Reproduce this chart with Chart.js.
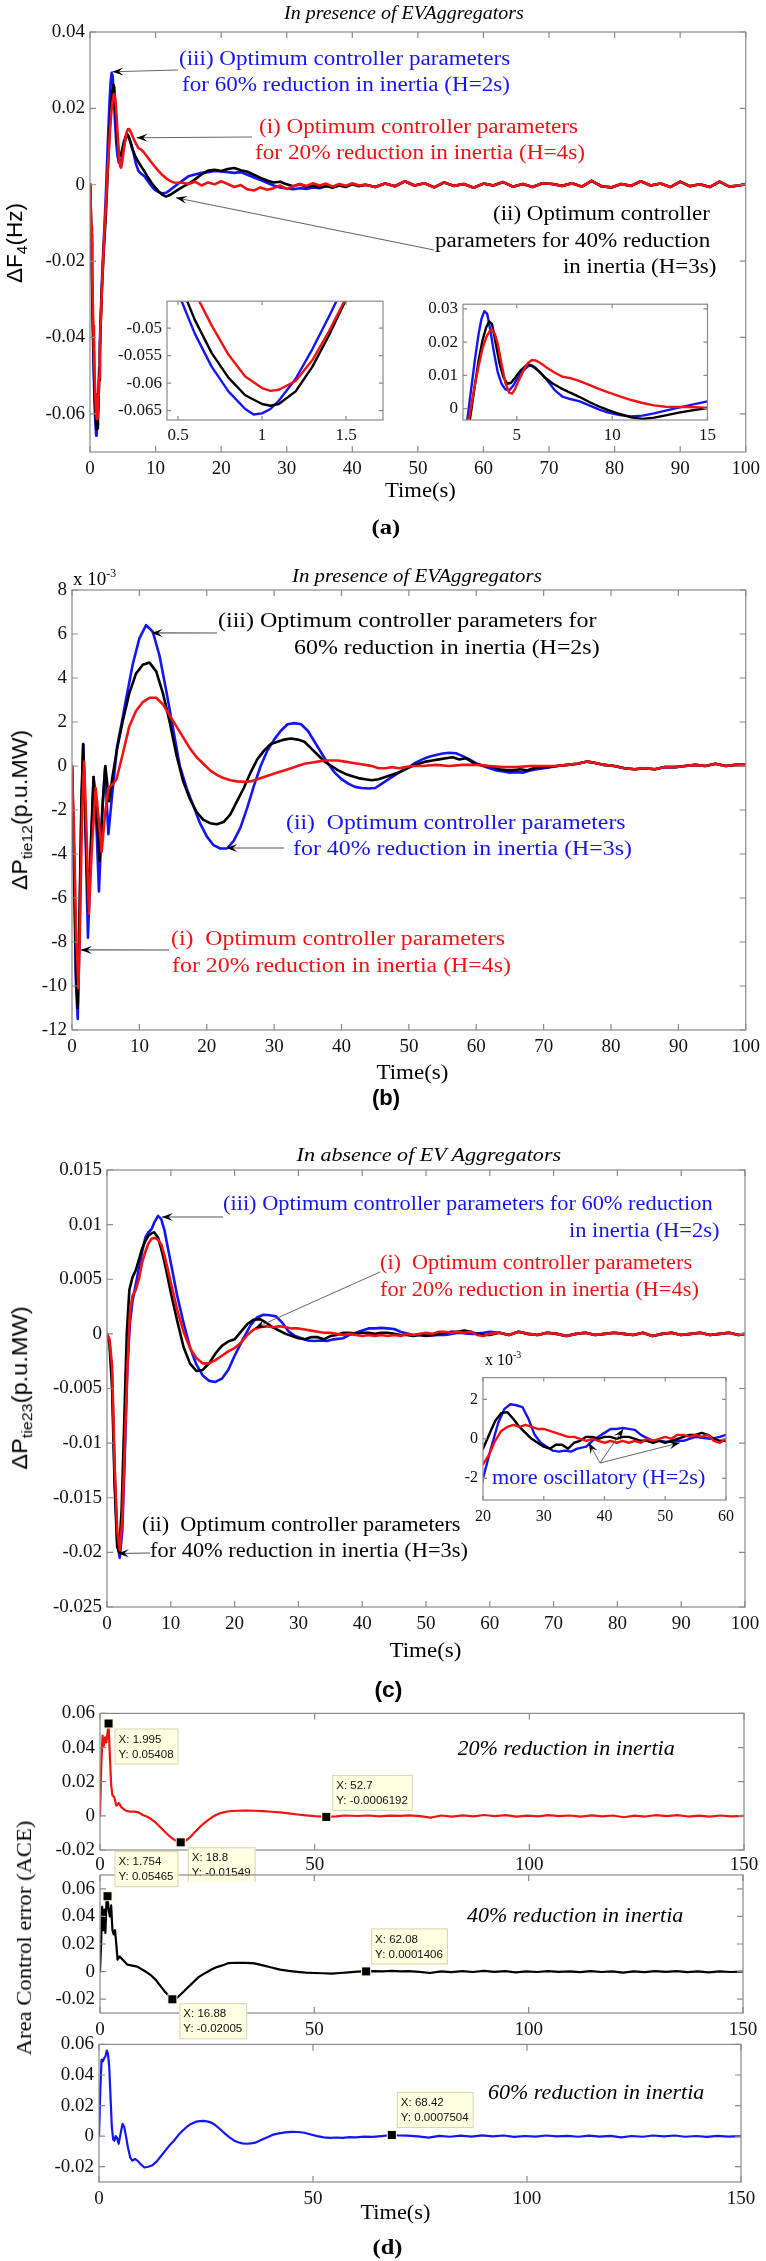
<!DOCTYPE html>
<html>
<head>
<meta charset="utf-8">
<script src="https://cdn.jsdelivr.net/npm/chart.js@4.4.1/dist/chart.umd.min.js"></script>
<style>
  html, body { margin: 0; padding: 0; background: #fff; }
  #page { position: relative; width: 766px; height: 2261px; overflow: hidden; background: #fff; }
  #page canvas { position: absolute; }
  .lbl { position: absolute; white-space: nowrap; line-height: 1; font-family: 'Liberation Serif', 'Times New Roman', serif; }
  .lbl sub { font-size: 68%; vertical-align: -0.35em; line-height: 0; }
  .lbl sup { font-size: 62%; vertical-align: 0.7em; line-height: 0; }
</style>
</head>
<body>
<div id="page"></div>
<script>
// ---- (a) frequency deviation, [time, value] ----
const aBlue = [[0,0],[0.1,-0.006],[0.2,-0.015],[0.3,-0.025],[0.4,-0.035],[0.5,-0.0435],[0.6,-0.051],[0.7,-0.057],[0.8,-0.0615],[0.9,-0.0647],[0.95,-0.0657],[1.0,-0.0655],[1.05,-0.0647],[1.1,-0.0632],[1.2,-0.0592],[1.3,-0.0538],[1.4,-0.0478],[1.5,-0.0415],[1.6,-0.036],[1.8,-0.026],[2.0,-0.018],[2.2,-0.011],[2.4,-0.0035],[2.6,0.0055],[2.8,0.0145],[3.0,0.0225],[3.15,0.027],[3.3,0.0293],[3.45,0.0285],[3.6,0.024],[3.8,0.017],[4.0,0.011],[4.2,0.0075],[4.4,0.0058],[4.6,0.0055],[4.8,0.0068],[5.0,0.0088],[5.3,0.0112],[5.6,0.0128],[5.8,0.013],[6.0,0.0122],[6.3,0.0105],[6.6,0.0085],[7.0,0.0055],[7.4,0.0036],[7.8,0.0029],[8.3,0.0022],[8.8,0.001],[9.3,-0.0002],[9.8,-0.0012],[10.4,-0.0019],[11.0,-0.0023],[11.6,-0.0021],[12.2,-0.0014],[12.8,-0.0006],[13.5,0.0003],[14.2,0.0012],[15,0.0022],[16,0.0027],[17,0.0031],[18,0.0033],[19,0.0036],[20,0.0035],[21,0.0033],[22,0.0031],[23,0.0033],[24,0.0026],[25,0.0019],[26,0.0012],[27,0.0005],[28,-0.0002],[29,-0.0007],[30,-0.001],[31,-0.0012],[32,-0.0009],[33,-0.0011],[34,-0.0007],[35,-0.0009],[36,-0.0004],[37,-0.0006],[38,-0.0002],[39,-0.0004],[40,0.0002],[41,-0.0002]];
const aBlack = [[0,0],[0.1,-0.005],[0.2,-0.013],[0.3,-0.023],[0.4,-0.033],[0.5,-0.041],[0.6,-0.0485],[0.7,-0.0545],[0.8,-0.059],[0.9,-0.0622],[1.0,-0.0638],[1.05,-0.0641],[1.1,-0.0638],[1.2,-0.0615],[1.3,-0.057],[1.4,-0.0512],[1.5,-0.0448],[1.6,-0.038],[1.8,-0.028],[2.0,-0.0205],[2.2,-0.0142],[2.4,-0.0085],[2.6,-0.001],[2.8,0.007],[3.0,0.0145],[3.2,0.0205],[3.4,0.0245],[3.55,0.0262],[3.7,0.0255],[3.9,0.0195],[4.1,0.0135],[4.3,0.0095],[4.5,0.0075],[4.7,0.0078],[4.9,0.0092],[5.2,0.0115],[5.5,0.013],[5.65,0.0133],[5.9,0.0125],[6.2,0.011],[6.5,0.0092],[6.9,0.0075],[7.3,0.0062],[7.8,0.0048],[8.3,0.0035],[8.8,0.002],[9.3,0.0007],[9.8,-0.0004],[10.4,-0.0016],[11.0,-0.0026],[11.6,-0.0031],[12.2,-0.0027],[12.8,-0.002],[13.5,-0.0012],[14.2,-0.0005],[15,0.0002],[16,0.0014],[17,0.0027],[18,0.0037],[19,0.0039],[20,0.0036],[21,0.0041],[22,0.0044],[23,0.0038],[24,0.0034],[25,0.0026],[26,0.0018],[27,0.0011],[28,0.0006],[29,0.0008],[30,0.0001],[31,-0.0004],[32,0.0002],[33,-0.0006],[34,-0.0002],[35,-0.0007],[36,-0.0003],[37,-0.0008],[38,-0.0002],[39,-0.0006],[40,0.0001],[41,-0.0004]];
const aRed = [[0,0],[0.1,-0.004],[0.2,-0.011],[0.3,-0.02],[0.4,-0.029],[0.5,-0.037],[0.6,-0.0435],[0.7,-0.0495],[0.8,-0.0548],[0.9,-0.0588],[1.0,-0.0609],[1.05,-0.0614],[1.1,-0.0612],[1.2,-0.0596],[1.3,-0.0558],[1.4,-0.0505],[1.5,-0.0445],[1.6,-0.038],[1.8,-0.0282],[2.0,-0.0198],[2.2,-0.0125],[2.4,-0.006],[2.6,0.0005],[2.8,0.007],[3.0,0.0128],[3.2,0.018],[3.4,0.0215],[3.6,0.0235],[3.7,0.0238],[3.85,0.0225],[4.0,0.0195],[4.2,0.0135],[4.4,0.0078],[4.6,0.0048],[4.75,0.0045],[4.9,0.0058],[5.1,0.0085],[5.4,0.012],[5.6,0.0138],[5.8,0.0146],[6.0,0.0145],[6.3,0.0135],[6.6,0.0122],[7.0,0.0108],[7.4,0.0096],[7.8,0.0092],[8.2,0.0085],[8.7,0.0074],[9.2,0.0062],[9.8,0.0049],[10.4,0.0037],[11.0,0.0026],[11.6,0.0017],[12.2,0.001],[12.8,0.0006],[13.4,0.0005],[14.0,0.0005],[14.6,0.0004],[15,0.0002],[16,0.0008],[17,-0.0002],[18,0.0006],[19,0.0001],[20,0.0009],[21,0.0002],[22,-0.0006],[23,-0.0001],[24,-0.0012],[25,-0.0015],[26,-0.0007],[27,-0.0013],[28,-0.0009],[29,-0.0002],[30,-0.0011],[31,-0.0004],[32,0.0001],[33,-0.0003],[34,0.0004],[35,-0.0002],[36,0.0003],[37,-0.0005],[38,0.0002],[39,-0.0003],[40,0.0004],[41,-0.0002]];
const aTail = [[42,0],[43.5,-0.0006],[45,0.0003],[46.5,-0.0004],[48,0.0009],[49.5,-0.0002],[51,0.0004],[52.5,-0.0007],[54,0.0006],[55.5,-0.0003],[57,0.0002],[58.5,-0.0008],[60,0.0003],[61.5,-0.0002],[63,0.0007],[64.5,-0.0005],[66,0.0002],[67.5,-0.0006],[69,0.0004],[70.5,0.0002],[72,-0.0003],[73.5,0.0004],[75,-0.0005],[76.5,0.001],[78,-0.0004],[79.5,-0.0007],[81,0.0002],[82.5,-0.0003],[84,0.0009],[85.5,-0.0002],[87,0.0003],[88.5,-0.0006],[90,0.0008],[91.5,-0.0004],[93,0.0001],[94.5,-0.0006],[96,0.0008],[97.5,-0.0005],[99,-0.0002],[100,0.0002]];
const aXTicks = [0,10,20,30,40,50,60,70,80,90,100];
const aYTicks = [-0.06,-0.04,-0.02,0,0.02,0.04];
const a1XTicks = [0.5,1,1.5];
const a1YTicks = [-0.065,-0.06,-0.055,-0.05];
const a2XTicks = [5,10,15];
const a2YTicks = [0,0.01,0.02,0.03];

// ---- (b) tie-line power 1-2, values in 1e-3 p.u.MW ----
const bBlue = [[0,0],[0.3,-5],[0.6,-10],[0.85,-11.5],[1.1,-8],[1.4,-2],[1.67,1.0],[2.0,-3],[2.37,-7.8],[2.8,-4],[3.2,-0.5],[3.6,-2.5],[4.0,-5.7],[4.5,-2],[4.9,-0.1],[5.4,-3.1],[5.9,-1.5],[6.7,0.9],[7.4,2.0],[8,3.0],[9,4.6],[10,5.8],[11,6.4],[12,6.1],[13,5.0],[14,3.4],[15,1.7],[16,0],[17,-1.0],[18,-1.8],[19,-2.6],[20,-3.2],[21,-3.6],[22,-3.75],[23,-3.75],[24,-3.4],[25,-2.8],[26,-1.9],[27,-0.9],[28,0],[29,0.7],[30,1.2],[31,1.6],[32,1.9],[33,1.95],[34,1.9],[35,1.6],[36,1.1],[37,0.6],[38,0.1],[39,-0.3],[40,-0.6],[41,-0.8],[42,-0.95],[43,-1.0],[44,-1.02],[45,-1.0],[46,-0.8],[47,-0.6],[48,-0.4],[49,-0.2],[50,-0.05],[51,0.15],[52,0.3],[53,0.42],[54,0.5],[55,0.57],[56,0.6],[57,0.58],[58,0.45],[59,0.3],[60,0.12],[61,0],[62,-0.1],[63,-0.2],[64,-0.25],[65,-0.3],[66,-0.28],[67,-0.3],[68,-0.2],[69,-0.15],[70,-0.1],[71,-0.05]];
const bBlack = [[0,0],[0.3,-4],[0.6,-9.5],[0.85,-11],[1.1,-7],[1.4,-1.5],[1.65,1.0],[2.0,-2.5],[2.4,-6.6],[2.8,-3.5],[3.2,-0.5],[3.6,-1.8],[4.1,-4.3],[4.6,-1.5],[4.95,0],[5.5,-1.6],[6.0,-0.5],[6.7,0.8],[7.5,2.0],[8.5,3.3],[9.5,4.2],[10.5,4.6],[11.5,4.7],[12.5,4.3],[13.5,3.3],[14.5,2.0],[15.5,0.5],[16.5,-0.7],[17.5,-1.5],[18.5,-2.1],[19.5,-2.45],[20.5,-2.6],[21.5,-2.65],[22.5,-2.55],[23.5,-2.2],[24.5,-1.6],[25.5,-1.0],[26.5,-0.3],[27.5,0.3],[28.5,0.7],[29.5,1.0],[30.5,1.1],[31.5,1.2],[32.5,1.25],[33.5,1.2],[34.5,1.1],[35.5,0.8],[36.5,0.5],[37.5,0.2],[38.5,0],[39.5,-0.2],[40.5,-0.35],[41.5,-0.45],[42.5,-0.55],[43.5,-0.6],[44.5,-0.65],[45.5,-0.6],[46.5,-0.5],[47.5,-0.4],[48.5,-0.3],[49.5,-0.15],[50.5,0],[51.5,0.1],[52.5,0.2],[53.5,0.25],[54.5,0.3],[55.5,0.35],[56.5,0.4],[57.5,0.3],[58.5,0.35],[59.5,0.15],[60.5,0.05],[61.5,0],[62.5,-0.05],[63.5,-0.15],[64.5,-0.2],[65.5,-0.2],[66.5,-0.15],[67.5,-0.2],[68.5,-0.1],[69.5,-0.05],[70.5,-0.05]];
const bRed = [[0,0],[0.3,-3],[0.6,-7.5],[0.95,-10.1],[1.2,-7],[1.5,-2],[1.8,0.2],[2.1,-2.5],[2.5,-6.7],[2.9,-4],[3.5,-1.0],[3.9,-2.2],[4.4,-3.9],[4.9,-2.2],[5.4,-1.0],[6.1,-0.8],[6.6,-0.6],[7.5,0.5],[8.5,1.8],[9.5,2.5],[10.5,2.9],[11.5,3.1],[12.5,3.1],[13.5,2.8],[14.5,2.3],[15.5,1.8],[16.5,1.3],[17.5,0.8],[18.5,0.4],[19.5,0.1],[20.5,-0.2],[21.5,-0.4],[22.5,-0.55],[23.5,-0.65],[24.5,-0.7],[25.5,-0.72],[26.5,-0.7],[27.5,-0.6],[28.5,-0.5],[29.5,-0.4],[30.5,-0.3],[31.5,-0.2],[32.5,-0.1],[33.5,0],[34.5,0.1],[35.5,0.15],[36.5,0.2],[37.5,0.25],[38.5,0.25],[39.5,0.25],[40.5,0.2],[41.5,0.15],[42.5,0.1],[43.5,0.05],[44.5,0],[45.5,-0.1],[46.5,-0.1],[47.5,-0.05],[48.5,-0.1],[49.5,-0.05],[50.5,0],[52,0],[54,0.05],[56,0],[58,0.05],[60,0.05],[62,0],[64,-0.05],[66,-0.05],[68,0],[70,0]];
const bTail = [[72,0],[73.5,0.05],[75,0.1],[76.5,0.2],[77.5,0.15],[79,0.05],[80.5,0],[82,-0.1],[83.5,-0.15],[85,-0.1],[86.5,-0.15],[88,-0.05],[89.5,-0.05],[91,0],[92.5,0.05],[94,0],[95.5,0.1],[97,0],[98.5,0.05],[100,0.05]];
const bXTicks = [0,10,20,30,40,50,60,70,80,90,100];
const bYTicks = [-12,-10,-8,-6,-4,-2,0,2,4,6,8];

// ---- (c) tie-line power 2-3 ----
const cBlue = [[0,0],[0.4,-0.0008],[0.8,-0.004],[1.2,-0.013],[1.6,-0.019],[2.0,-0.0205],[2.4,-0.018],[2.8,-0.011],[3.2,-0.003],[3.6,0.001],[4.0,0.003],[4.5,0.0045],[5.0,0.006],[5.5,0.0075],[6.0,0.0088],[6.5,0.0093],[7.0,0.0096],[7.5,0.0103],[8.0,0.0108],[8.5,0.0105],[9.0,0.0095],[9.5,0.008],[10,0.0065],[11,0.0035],[12,0.001],[13,-0.0012],[14,-0.0028],[15,-0.0038],[16,-0.0043],[17,-0.0044],[18,-0.0041],[19,-0.0033],[20,-0.002],[21.3,-0.0005],[22.5,0.0008],[23.5,0.0015],[24.5,0.00175],[25.5,0.0017],[26.5,0.0016],[27.5,0.001],[28.5,0.0002],[29.5,-0.0002],[30.5,-0.0004],[31.5,-0.0006],[32.5,-0.00065],[33.5,-0.0006],[34.5,-0.00065],[35.5,-0.0005],[37,-0.0004],[38,-0.0001],[39,0.0001],[40,0.0003],[41,0.0005],[42,0.0005],[43,0.00055],[44,0.0005],[45,0.00045],[46,0.0002],[46.6,0.0001],[48,-0.0001],[49,-0.0001],[50,-0.00015],[51,-0.00015],[52,-0.0001],[53,-0.0001],[54,0],[55,0.0001],[56,0.00005],[57.5,0],[59,0.0001],[60,0.0002]];
const cBlack = [[0,0],[0.4,-0.001],[0.8,-0.005],[1.2,-0.014],[1.6,-0.0195],[1.9,-0.02],[2.3,-0.016],[2.7,-0.008],[3.1,0],[3.5,0.004],[4.0,0.0052],[4.5,0.0058],[5.0,0.0068],[5.5,0.0078],[6.0,0.0085],[6.5,0.009],[7.0,0.0092],[7.4,0.0093],[8.0,0.0088],[8.5,0.0078],[9.0,0.0066],[9.5,0.0052],[10,0.0038],[11,0.0012],[12,-0.0012],[13,-0.0027],[14,-0.0034],[15,-0.0033],[16,-0.0027],[17,-0.0018],[18,-0.0011],[19,-0.0007],[20,-0.0005],[21,0.0002],[22,0.0009],[23,0.0013],[24,0.00135],[25,0.001],[26,0.0006],[27,0.0003],[28,0],[29,-0.0002],[30,-0.0004],[31,-0.0005],[32,-0.0003],[33,-0.0003],[34,-0.0005],[35,-0.0002],[36,-0.0001],[37,0.0001],[38,0.0001],[39,0],[40,0.0001],[41,0.0001],[42,0],[43,0.0001],[44,0.0001],[45,0],[46,-0.0001],[47,-0.0001],[48,-0.0002],[49,-0.0001],[50,-0.0002],[51,-0.0001],[52,0],[53,0.0001],[54,0.0002],[55,0.0002],[56,0.0003],[57,0.0002],[58,0],[59,-0.0001],[60,-0.0001]];
const cRed = [[0,0],[0.4,-0.0005],[0.8,-0.003],[1.2,-0.012],[1.6,-0.018],[2.0,-0.0198],[2.4,-0.017],[2.8,-0.01],[3.2,-0.003],[3.6,0.002],[4.0,0.0035],[4.5,0.004],[5.0,0.005],[5.5,0.0065],[6.0,0.0075],[6.5,0.0083],[7.0,0.0087],[7.5,0.0088],[8.0,0.0086],[8.5,0.0082],[9.0,0.0072],[9.5,0.006],[10,0.0047],[11,0.0022],[12,0.0002],[13,-0.0013],[14,-0.0022],[15,-0.0027],[16,-0.0027],[17,-0.0024],[18,-0.002],[19,-0.0016],[20,-0.0013],[21,-0.0008],[22,-0.0001],[23,0.0004],[24,0.0006],[25,0.0007],[26,0.0006],[27,0.0007],[28,0.0006],[29,0.0005],[30,0.0005],[31,0.0004],[32,0.0003],[33,0.0002],[34,0.0001],[35,0.0001],[36,0],[37,-0.0001],[38,0],[39,-0.0001],[40,-0.0002],[41,-0.0001],[42,-0.0002],[43,-0.0001],[44,-0.0002],[45,-0.0001],[46,-0.0002],[47,0],[48,-0.0001],[49,0],[50,0.0001],[51,0],[52,0.0002],[53,0.0002],[54,0.0001],[55,0.0002],[56,0.0001],[57,0.0002],[58,-0.0001],[59,-0.0002],[60,0]];
const cTail = [[61.5,0.0001],[63,-0.0001],[64.5,0.0002],[66,0],[67.5,-0.0001],[69,0.0001],[70.5,0],[72,-0.0002],[73.5,0],[75,0.0001],[76.5,-0.0001],[78,0],[79.5,0.0001],[81,0],[82.5,-0.0001],[84,0.0001],[85.5,-0.0002],[87,0],[88.5,0.0001],[90,-0.0001],[91.5,0],[93,0.0001],[94.5,-0.0001],[96,0],[97.5,0.0001],[99,-0.0001],[100,0]];
const cXTicks = [0,10,20,30,40,50,60,70,80,90,100];
const cYTicks = [-0.025,-0.02,-0.015,-0.01,-0.005,0,0.005,0.01,0.015];
const c1XTicks = [20,30,40,50,60];
const c1YTicks = [-2,0,2];

// ---- (d) area control error ----
const dRed = [[0,0],[0.3,0.03],[0.6,0.047],[0.9,0.041],[1.2,0.046],[1.5,0.043],[1.995,0.05408],[2.3,0.035],[2.6,0.018],[2.9,0.012],[3.3,0.011],[3.8,0.006],[4.4,0.0075],[5,0.005],[6,0.003],[7,0.0025],[8,0.0025],[9,0.002],[10,0.0005],[11,-0.0005],[12,-0.002],[13,-0.004],[14,-0.0065],[15,-0.009],[16,-0.0115],[17,-0.0135],[18,-0.015],[18.8,-0.01549],[20,-0.0145],[21,-0.0125],[22,-0.0098],[23,-0.0072],[24,-0.0048],[25,-0.0028],[26,-0.001],[27,0.0005],[28,0.0015],[29,0.0022],[30,0.0027],[32,0.003],[34,0.0031],[36,0.003],[38,0.0028],[40,0.0024],[42,0.002],[44,0.0014],[46,0.0008],[48,0.0003],[50,-0.0002],[52.7,-0.0006192],[55,-0.0003],[57,0.0002],[60,-0.0001],[62.5,0.0002],[65,-0.0003],[67.5,0.0001],[70,0]];
const dBlack = [[0,0],[0.25,0.02],[0.5,0.047],[0.75,0.03],[1.0,0.045],[1.25,0.028],[1.5,0.05],[1.754,0.05465],[2.0,0.045],[2.3,0.04],[2.6,0.048],[2.9,0.03],[3.2,0.027],[3.5,0.03],[3.8,0.02],[4.1,0.0086],[4.6,0.011],[5.2,0.009],[6.4,0.005],[8.7,0.0036],[11,-0.0007],[12,-0.003],[13,-0.006],[14,-0.01],[15,-0.014],[16,-0.0175],[16.88,-0.02005],[18,-0.019],[19,-0.016],[20,-0.013],[21,-0.01],[22,-0.007],[23,-0.004],[24,-0.002],[25,-0.0003],[26,0.0015],[27,0.003],[28,0.004],[29,0.005],[30,0.0062],[32,0.0064],[34,0.0063],[36,0.006],[38,0.0045],[40,0.003],[42,0.0014],[44,0.0005],[46,-0.0002],[48,-0.0008],[50,-0.001],[52,-0.0012],[54,-0.0014],[56,-0.001],[58,-0.0005],[60,0],[62.08,0.0001406],[64,0.0004],[66,0.0002],[68,0.0005],[70,0.0001]];
const dBlue = [[0,0],[0.3,0.03],[0.6,0.05],[0.9,0.049],[1.2,0.051],[1.5,0.052],[1.8,0.056],[2.1,0.054],[2.4,0.045],[2.7,0.025],[3.0,0.006],[3.3,-0.002],[3.6,-0.003],[3.9,0],[4.2,-0.001],[4.6,-0.005],[5.0,0.001],[5.5,0.008],[5.9,0.006],[6.3,0],[6.8,-0.008],[7.3,-0.014],[7.8,-0.016],[8.4,-0.015],[9.0,-0.016],[9.6,-0.018],[10.6,-0.0205],[11.5,-0.02],[12.5,-0.019],[13.5,-0.0165],[14.5,-0.013],[15.5,-0.0095],[16.5,-0.006],[17.5,-0.003],[18.5,0.0005],[19.5,0.0035],[20.5,0.006],[21.5,0.008],[22.5,0.0093],[23.5,0.0098],[24.5,0.01],[25.5,0.0095],[26.5,0.0085],[27.5,0.0065],[28.5,0.004],[29.5,0.0015],[30.5,-0.0008],[31.5,-0.0028],[32.5,-0.004],[33.5,-0.0047],[34.5,-0.005],[35.5,-0.0048],[36.5,-0.0043],[37.5,-0.003],[38.5,-0.0017],[39.5,-0.0005],[40.5,0.0008],[42,0.0018],[43.5,0.0025],[45,0.0028],[46.5,0.0027],[48,0.0022],[49.5,0.0011],[51,0],[52.5,-0.0008],[54,-0.0011],[55.5,-0.0009],[57,-0.0011],[58.5,-0.0007],[60,-0.0008],[62,-0.0003],[64,-0.0005],[66,0],[68.42,0.0007504],[70,0.0004]];
const dTail = [[72,0.0003],[74.5,-0.0002],[77,-0.001],[79.5,0.0002],[82,-0.0004],[84.5,0.0003],[87,-0.0003],[89.5,0.0005],[92,-0.0002],[94.5,0.0004],[97,-0.0005],[99.5,0.0001],[102,-0.0003],[104.5,0.0004],[107,-0.0002],[109.5,0.0002],[112,-0.0004],[114.5,0.0003],[117,-0.0003],[119.5,0.0002],[122,-0.0008],[124.5,0.0001],[127,-0.0004],[129.5,0.0004],[132,-0.0002],[134.5,0.0004],[137,-0.0004],[139.5,0.0001],[142,-0.0005],[144.5,0.0002],[147,-0.0003],[150,0]];
const dTips1 = [[1.995,0.05408],[18.8,-0.01549],[52.7,-0.0006192]];
const dTips2 = [[1.754,0.05465],[16.88,-0.02005],[62.08,0.0001406]];
const dTips3 = [[68.42,0.0007504]];
const dXTicks = [0,50,100,150];
const dYTicks = [-0.02,0,0.02,0.04,0.06];

// ---- drawing ----
const SERIF = "'Liberation Serif', 'Times New Roman', serif";
const SANS = "'Liberation Sans', Arial, sans-serif";
const BLUE = '#1414f5', RED = '#f21212', BLACK = '#000000';
const page = document.getElementById('page');

function arrowTo(ctx, x1, y1, x2, y2, col, lw) {
  ctx.strokeStyle = col; ctx.lineWidth = lw;
  ctx.beginPath(); ctx.moveTo(x1, y1); ctx.lineTo(x2, y2); ctx.stroke();
  const a = Math.atan2(y2 - y1, x2 - x1), L = 11, W = 4;
  const c = Math.cos(a), s = Math.sin(a);
  ctx.fillStyle = '#000';
  ctx.beginPath();
  ctx.moveTo(x2, y2);
  ctx.lineTo(x2 - L * c + W * s, y2 - L * s - W * c);
  ctx.lineTo(x2 - 0.6 * L * c, y2 - 0.6 * L * s);
  ctx.lineTo(x2 - L * c - W * s, y2 - L * s + W * c);
  ctx.closePath(); ctx.fill();
}

const framePlugin = {
  id: 'frame',
  beforeDatasetsDraw(chart, args, o) {
    if (!o.fill) return;
    const { ctx, chartArea: a } = chart;
    ctx.save(); ctx.fillStyle = o.fill; ctx.fillRect(a.left, a.top, a.width, a.height); ctx.restore();
  },
  afterDraw(chart, args, o) {
    const { ctx, chartArea: a, scales } = chart;
    ctx.save();
    ctx.strokeStyle = '#8a8a8a'; ctx.lineWidth = 1.2;
    ctx.strokeRect(a.left, a.top, a.width, a.height);
    const L = o.tick;
    ctx.beginPath();
    scales.x.ticks.forEach(t => {
      const x = scales.x.getPixelForValue(t.value);
      ctx.moveTo(x, a.bottom); ctx.lineTo(x, a.bottom - L);
      ctx.moveTo(x, a.top); ctx.lineTo(x, a.top + L);
    });
    scales.y.ticks.forEach(t => {
      const y = scales.y.getPixelForValue(t.value);
      ctx.moveTo(a.left, y); ctx.lineTo(a.left + L, y);
      ctx.moveTo(a.right, y); ctx.lineTo(a.right - L, y);
    });
    ctx.stroke();
    (o.arrows || []).forEach(ar => {
      const x2 = scales.x.getPixelForValue(ar.to[0]);
      const y2 = scales.y.getPixelForValue(ar.to[1] * (o.k || 1));
      arrowTo(ctx, ar.from[0] - o.ox, ar.from[1] - o.oy, x2, y2, ar.color || '#555', ar.lw || 1.1);
    });
    (o.tips || []).forEach((p, i) => {
      const x = scales.x.getPixelForValue(p[0]);
      const y = scales.y.getPixelForValue(p[1]);
      const off = o.tipPos[i];
      const lines = ['X: ' + p[0], 'Y: ' + p[1]];
      ctx.font = '11.5px ' + SANS;
      const w = Math.max(...lines.map(t => ctx.measureText(t).width)) + 9;
      const bx = x + off[0], by = y + off[1];
      ctx.fillStyle = '#ffffe1'; ctx.fillRect(bx, by, w, 36);
      ctx.strokeStyle = '#d6d6b4'; ctx.lineWidth = 1; ctx.strokeRect(bx + 0.5, by + 0.5, w - 1, 35);
      ctx.fillStyle = '#111'; ctx.textBaseline = 'middle'; ctx.textAlign = 'left';
      ctx.fillText(lines[0], bx + 4, by + 11);
      ctx.fillText(lines[1], bx + 4, by + 26);
      ctx.fillStyle = '#fff8d0'; ctx.fillRect(x - 5, y - 5, 10, 10);
      ctx.fillStyle = '#000'; ctx.fillRect(x - 4, y - 4, 8, 8);
    });
    ctx.restore();
  }
};
Chart.register(framePlugin);

const fmt = v => String(+(+v).toFixed(5));

// b = [left, top, right, bottom] of the plot box on the page, m = [left, top, right, bottom] margins
function plot(o) {
  const b = o.box, m = o.m;
  const w = b[2] - b[0] + m[0] + m[2], h = b[3] - b[1] + m[1] + m[3];
  const ox = b[0] - m[0], oy = b[1] - m[1];
  const cv = document.createElement('canvas');
  cv.width = w; cv.height = h;
  cv.style.left = ox + 'px'; cv.style.top = oy + 'px';
  cv.style.width = w + 'px'; cv.style.height = h + 'px';
  page.appendChild(cv);
  const k = o.k || 1;
  const font = { family: SERIF, size: o.fs || 19 };
  return new Chart(cv, {
    type: 'line',
    data: {
      datasets: o.series.map(s => ({
        data: s.data.map(p => ({ x: p[0], y: p[1] * k })),
        borderColor: s.color, borderWidth: s.width || 2.6,
        pointRadius: 0, tension: 0, fill: false, borderJoinStyle: 'round', borderCapStyle: 'round'
      }))
    },
    options: {
      responsive: false, animation: false, devicePixelRatio: 1, events: [],
      layout: { autoPadding: false, padding: { left: 0, top: m[1], right: m[2], bottom: 0 } },
      plugins: {
        legend: { display: false }, tooltip: { enabled: false },
        frame: { ox, oy, k, tick: o.tick || 6, fill: o.fill, arrows: o.arrows, tips: o.tips, tipPos: o.tipPos }
      },
      scales: {
        x: {
          type: 'linear', min: o.x[0], max: o.x[1],
          afterBuildTicks: s => { s.ticks = o.xt.map(v => ({ value: v })); },
          afterFit: s => { s.height = m[3]; },
          grid: { display: false, drawTicks: false }, border: { display: false },
          ticks: { font, color: '#111', padding: o.xpad || 5, maxRotation: 0, autoSkip: false, callback: fmt }
        },
        y: {
          type: 'linear', min: o.y[0], max: o.y[1],
          afterBuildTicks: s => { s.ticks = o.yt.map(v => ({ value: v })); },
          afterFit: s => { s.width = m[0]; },
          grid: { display: false, drawTicks: false }, border: { display: false },
          ticks: { font, color: '#111', padding: 5, autoSkip: false, callback: fmt }
        }
      }
    }
  });
}

function label(html, x, y, o) {
  const s = document.createElement('span');
  s.className = 'lbl';
  s.innerHTML = html;
  s.style.fontSize = (o.size || 20) + 'px';
  if (o.family) s.style.fontFamily = o.family;
  if (o.italic) s.style.fontStyle = 'italic';
  if (o.bold) s.style.fontWeight = 'bold';
  s.style.color = o.color || '#000';
  page.appendChild(s);
  const w = s.offsetWidth, h = s.offsetHeight;
  let k = o.w ? o.w / w : 1;
  k = Math.max(0.7, Math.min(1.4, k));
  if (o.rot) {
    s.style.left = (x - w / 2) + 'px';
    s.style.top = (y - h / 2) + 'px';
    s.style.transform = 'rotate(-90deg) scaleX(' + k + ')';
    return;
  }
  const al = o.align || 'c';
  s.style.left = (al === 'l' ? x : al === 'r' ? x - w : x - w / 2) + 'px';
  s.style.top = (y - h / 2) + 'px';
  s.style.transformOrigin = (al === 'l' ? 'left' : al === 'r' ? 'right' : 'center') + ' center';
  s.style.transform = 'scaleX(' + k + ')';
}

// panel (a)
plot({ box: [90, 32, 748, 452], m: [90, 32, 18, 95], x: [0, 100], y: [-0.07, 0.04], xt: aXTicks, yt: aYTicks, xpad: 6,
  series: [
    { data: aRed.concat(aTail), color: RED },
    { data: aBlack.concat(aTail), color: BLACK },
    { data: aBlue.concat(aTail), color: BLUE }
  ],
  arrows: [
    { from: [178, 70], to: [3.4, 0.0296], color: '#666' },
    { from: [252, 137], to: [7.1, 0.0123], color: '#666' },
    { from: [434, 250], to: [13.1, -0.0034], color: '#666' }
  ] });
plot({ box: [167, 292, 383, 420], m: [58, 6, 6, 28], x: [0.4345, 1.72], y: [-0.0667, -0.0451], xt: a1XTicks, yt: a1YTicks,
  fs: 17, tick: 4, xpad: 5, fill: '#fff',
  series: [ { data: aRed, color: RED, width: 2.4 }, { data: aBlack, color: BLACK, width: 2.4 }, { data: aBlue, color: BLUE, width: 2.4 } ] });
plot({ box: [463, 297, 713, 420], m: [46, 8, 8, 28], x: [2.18, 15], y: [-0.0034, 0.0314], xt: a2XTicks, yt: a2YTicks,
  fs: 17, tick: 4, xpad: 5, fill: '#fff',
  series: [ { data: aRed, color: RED, width: 2.4 }, { data: aBlack, color: BLACK, width: 2.4 }, { data: aBlue, color: BLUE, width: 2.4 } ] });

// panel (b)
plot({ box: [72, 590, 752, 1030], m: [72, 40, 14, 85], x: [0, 100], y: [-12, 8], xt: bXTicks, yt: bYTicks, xpad: 6,
  series: [
    { data: bRed.concat(bTail), color: RED },
    { data: bBlack.concat(bTail), color: BLACK },
    { data: bBlue.concat(bTail), color: BLUE }
  ],
  arrows: [
    { from: [217, 633], to: [11.8, 6.05] },
    { from: [284, 848], to: [22.9, -3.73] },
    { from: [169, 950], to: [1.3, -8.36] }
  ] });

// panel (c)
plot({ box: [107, 1170, 745, 1607], m: [107, 45, 21, 95], x: [0, 100], y: [-0.025, 0.015], xt: cXTicks, yt: cYTicks, xpad: 6,
  series: [
    { data: cRed.concat(cTail), color: RED },
    { data: cBlack.concat(cTail), color: BLACK },
    { data: cBlue.concat(cTail), color: BLUE }
  ],
  arrows: [
    { from: [223, 1217], to: [8.6, 0.0107] },
    { from: [380, 1272], to: [23.2, 0.00054], lw: 0.9 },
    { from: [150, 1553], to: [1.7, -0.0201] }
  ] });
plot({ box: [483, 1369, 729, 1500], m: [24, 6, 12, 26], x: [20, 60], y: [-3.1, 3.1], xt: c1XTicks, yt: c1YTicks, k: 1000,
  fs: 16, tick: 4, xpad: 7, fill: '#fff',
  series: [ { data: cRed.concat(cTail), color: RED, width: 2.4 }, { data: cBlack.concat(cTail), color: BLACK, width: 2.4 }, { data: cBlue.concat(cTail), color: BLUE, width: 2.4 } ],
  arrows: [
    { from: [600, 1463], to: [37.4, -0.0002], lw: 0.9 },
    { from: [600, 1463], to: [43.1, 0.0005], lw: 0.9 },
    { from: [600, 1463], to: [52.4, -0.0002], lw: 0.9 }
  ] });

// panel (d)
plot({ box: [100, 1712, 744, 1850], m: [100, 15, 22, 32], x: [0, 150], y: [-0.02, 0.06], xt: dXTicks, yt: dYTicks, xpad: 4,
  series: [ { data: dRed.concat(dTail), color: RED, width: 2.2 } ], tips: dTips1, tipPos: [[6, 5], [7, 5], [6, -42]] });
plot({ box: [100, 1875, 743, 2013], m: [100, 26, 23, 32], x: [0, 150], y: [-0.03, 0.07], xt: dXTicks, yt: dYTicks, xpad: 6,
  series: [ { data: dBlack.concat(dTail), color: BLACK, width: 2.2 } ], tips: dTips2, tipPos: [[7, -45], [7, 4], [5, -43]] });
plot({ box: [99, 2040, 741, 2182], m: [99, 12, 25, 79], x: [0, 150], y: [-0.03, 0.06], xt: dXTicks, yt: dYTicks, xpad: 6,
  series: [ { data: dBlue.concat(dTail), color: BLUE, width: 2.2 } ], tips: dTips3, tipPos: [[5, -43]] });

// texts
label('In presence of EVAggregators', 404, 12, { size: 19, italic: true, w: 240 });
label('&Delta;F<sub>4</sub>(Hz)', 15, 243, { size: 22, family: SANS, rot: true, w: 80 });
label('Time(s)', 420, 490, { size: 22, w: 71 });
label('(a)', 386, 527, { size: 22, bold: true, w: 29 });
label('(iii) Optimum controller parameters', 179, 58, { align: 'l', color: BLUE, w: 331 });
label('for 60% reduction in inertia (H=2s)', 182, 84, { align: 'l', color: BLUE, w: 328 });
label('(i) Optimum controller parameters', 259, 126, { align: 'l', color: RED, w: 319 });
label('for 20% reduction in inertia (H=4s)', 255, 152, { align: 'l', color: RED, w: 330 });
label('(ii) Optimum controller', 710, 213, { align: 'r', w: 217 });
label('parameters for 40% reduction', 710, 240, { align: 'r', w: 275 });
label('in inertia (H=3s)', 716, 266, { align: 'r', w: 153 });

label('x 10<sup>-3</sup>', 73, 578, { size: 19, align: 'l' });
label('In presence of EVAggregators', 417, 575, { size: 19, italic: true, w: 250 });
label('&Delta;P<sub>tie12</sub>(p.u.MW)', 20, 810, { size: 22, family: SANS, rot: true, w: 160 });
label('Time(s)', 412, 1072, { size: 22, w: 72 });
label('(b)', 386, 1098, { size: 22, bold: true, family: SANS, w: 28 });
label('(iii) Optimum controller parameters for', 218, 620, { align: 'l', w: 378 });
label('60% reduction in inertia (H=2s)', 294, 647, { align: 'l', w: 306 });
label('(ii)&nbsp; Optimum controller parameters', 286, 822, { align: 'l', color: BLUE, w: 340 });
label('for 40% reduction in inertia (H=3s)', 293, 848, { align: 'l', color: BLUE, w: 339 });
label('(i)&nbsp; Optimum controller parameters', 171, 938, { align: 'l', color: RED, w: 334 });
label('for 20% reduction in inertia (H=4s)', 172, 965, { align: 'l', color: RED, w: 339 });

label('In absence of EV Aggregators', 429, 1154, { size: 19, italic: true, w: 265 });
label('&Delta;P<sub>tie23</sub>(p.u.MW)', 20, 1388, { size: 22, family: SANS, rot: true, w: 163 });
label('Time(s)', 425, 1650, { size: 22, w: 72 });
label('(c)', 388, 1690, { size: 22, bold: true, family: SANS, w: 28 });
label('(iii) Optimum controller parameters for 60% reduction', 223, 1203, { align: 'l', color: BLUE, w: 490 });
label('in inertia (H=2s)', 719, 1230, { align: 'r', color: BLUE, w: 150 });
label('(i)&nbsp; Optimum controller parameters', 380, 1262, { align: 'l', color: RED, w: 312 });
label('for 20% reduction in inertia (H=4s)', 380, 1289, { align: 'l', color: RED, w: 319 });
label('(ii)&nbsp; Optimum controller parameters', 142, 1524, { align: 'l', w: 319 });
label('for 40% reduction in inertia (H=3s)', 150, 1550, { align: 'l', w: 318 });
label('x 10<sup>-3</sup>', 485, 1360, { size: 16, align: 'l' });
label('more oscillatory (H=2s)', 492, 1477, { align: 'l', color: BLUE, w: 213 });

label('Area Control error (ACE)', 24, 1938, { size: 22, rot: true, w: 235 });
label('20% reduction in inertia', 566, 1748, { size: 21, italic: true, w: 217 });
label('40% reduction in inertia', 575, 1915, { size: 21, italic: true, w: 216 });
label('60% reduction in inertia', 596, 2092, { size: 21, italic: true, w: 216 });
label('Time(s)', 395, 2212, { size: 22, w: 70 });
label('(d)', 387, 2247, { size: 22, bold: true, w: 30 });
</script>
</body>
</html>
